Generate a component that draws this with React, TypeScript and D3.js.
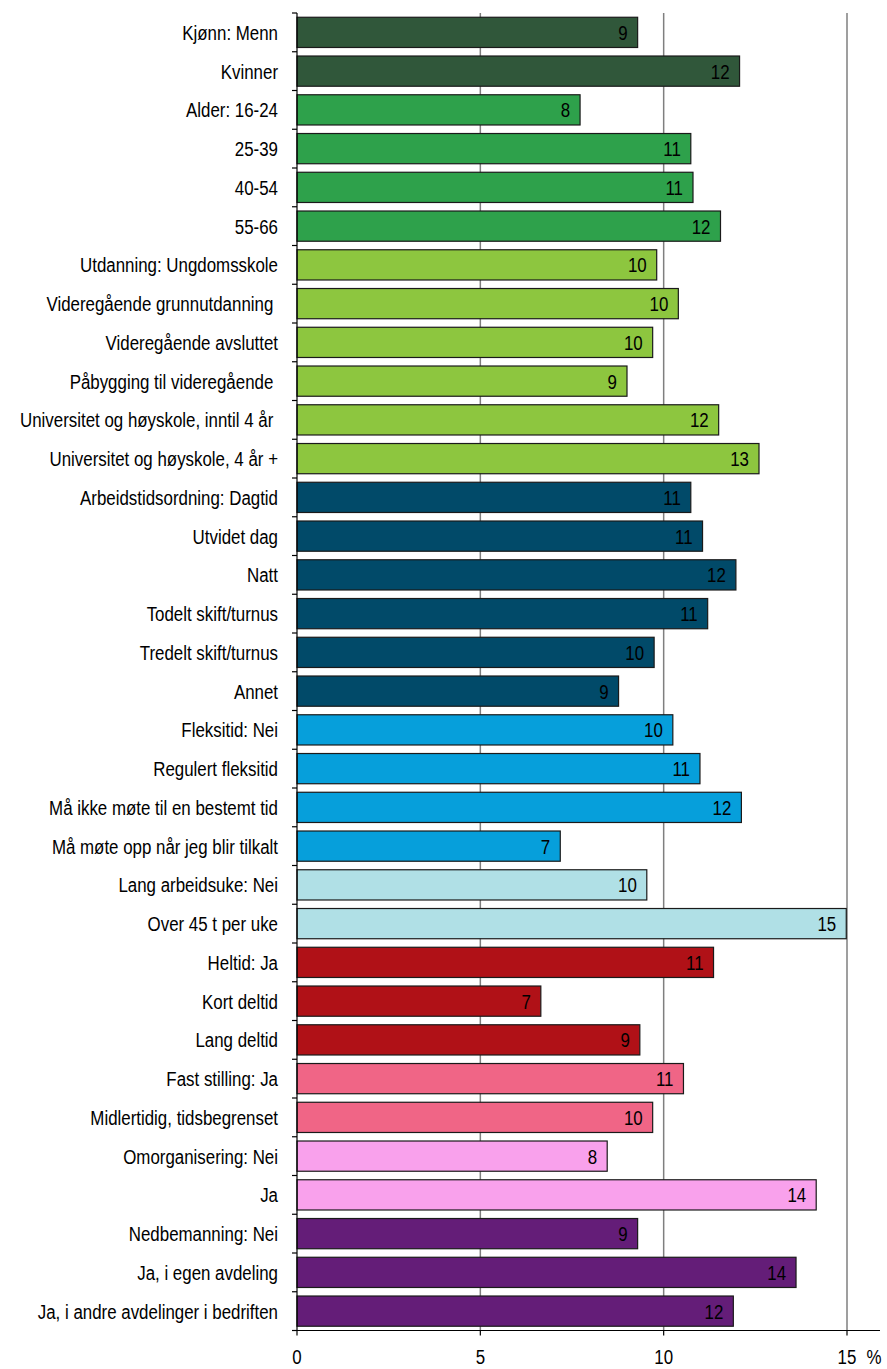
import React, { useEffect, useRef } from "react";
import * as d3 from "d3";

const categories = [
  "Kjønn: Menn", "Kvinner",
  "Alder: 16-24", "25-39", "40-54", "55-66",
  "Utdanning: Ungdomsskole", "Videregående grunnutdanning ", "Videregående avsluttet",
  "Påbygging til videregående ", "Universitet og høyskole, inntil 4 år ", "Universitet og høyskole, 4 år +",
  "Arbeidstidsordning: Dagtid", "Utvidet dag", "Natt", "Todelt skift/turnus", "Tredelt skift/turnus", "Annet",
  "Fleksitid: Nei", "Regulert fleksitid", "Må ikke møte til en bestemt tid", "Må møte opp når jeg blir tilkalt",
  "Lang arbeidsuke: Nei", "Over 45 t per uke",
  "Heltid: Ja", "Kort deltid", "Lang deltid",
  "Fast stilling: Ja", "Midlertidig, tidsbegrenset",
  "Omorganisering: Nei", "Ja",
  "Nedbemanning: Nei", "Ja, i egen avdeling", "Ja, i andre avdelinger i bedriften",
];

const values = [
  9.29, 12.07,
  7.72, 10.74, 10.8, 11.55,
  9.81, 10.4, 9.7, 9.0, 11.5, 12.6,
  10.74, 11.06, 11.97, 11.2, 9.74, 8.77,
  10.25, 10.99, 12.12, 7.18,
  9.54, 14.98,
  11.36, 6.65, 9.35,
  10.54, 9.7,
  8.46, 14.16,
  9.29, 13.61, 11.9,
];

const valueLabels = [
  "9", "12", "8", "11", "11", "12", "10", "10", "10", "9", "12", "13",
  "11", "11", "12", "11", "10", "9", "10", "11", "12", "7", "10", "15",
  "11", "7", "9", "11", "10", "8", "14", "9", "14", "12",
];

// group index per category
const groups = [
  0, 0, 1, 1, 1, 1, 2, 2, 2, 2, 2, 2, 3, 3, 3, 3, 3, 3, 4, 4, 4, 4, 5, 5, 6, 6, 6, 7, 7, 8, 8, 9, 9, 9,
];

const groupColors = [
  "#30573a", "#2ea14b", "#8dc63f", "#014a69", "#069fdb",
  "#b0e0e6", "#b01117", "#f06586", "#f9a1ec", "#641d78",
];

const xTicks = [0, 5, 10, 15];

const W = 887;
const H = 1369;

export default function App() {
  const ref = useRef<SVGSVGElement | null>(null);

  useEffect(() => {
    const svg = d3.select(ref.current);
    svg.selectAll("*").remove();

    const x = d3.scaleLinear().domain([0, 15]).range([297, 847]);
    const y = d3
      .scaleBand<string>()
      .domain(categories.map((_, i) => String(i)))
      .range([13, 1330.5])
      .paddingInner(0.22)
      .paddingOuter(0.11);
    const step = y.step();
    const top = 13;
    const bottom = 1330.5;
    const font = "'Liberation Sans', Arial, sans-serif";

    // grid lines
    svg
      .append("g")
      .selectAll("line")
      .data(xTicks.filter((t) => t > 0))
      .join("line")
      .attr("x1", (d) => x(d))
      .attr("x2", (d) => x(d))
      .attr("y1", top)
      .attr("y2", bottom)
      .attr("stroke", "#7f7f7f")
      .attr("stroke-width", 1.5);

    // bars
    svg
      .append("g")
      .selectAll("rect")
      .data(values)
      .join("rect")
      .attr("x", x(0))
      .attr("y", (_, i) => y(String(i))!)
      .attr("width", (d) => x(d) - x(0))
      .attr("height", y.bandwidth())
      .attr("fill", (_, i) => groupColors[groups[i]])
      .attr("stroke", "#1a1a1a")
      .attr("stroke-width", 1.2);

    // value labels
    svg
      .append("g")
      .selectAll("text")
      .data(values)
      .join("text")
      .attr(
        "transform",
        (d, i) =>
          `translate(${x(d) - 10},${y(String(i))! + y.bandwidth() / 2 + 7.5}) scale(0.866,1)`
      )
      .attr("text-anchor", "end")
      .attr("font-family", font)
      .attr("font-size", 19.5)
      .attr("fill", "#000")
      .text((_, i) => valueLabels[i]);

    // category labels
    svg
      .append("g")
      .selectAll("text")
      .data(categories)
      .join("text")
      .attr(
        "transform",
        (_, i) =>
          `translate(278,${y(String(i))! + y.bandwidth() / 2 + 7.5}) scale(0.866,1)`
      )
      .attr("text-anchor", "end")
      .attr("font-family", font)
      .attr("font-size", 19.5)
      .attr("fill", "#000")
      .style("white-space", "pre")
      .attr("xml:space", "preserve")
      .text((d) => d);

    // left axis line + ticks
    svg
      .append("line")
      .attr("x1", x(0))
      .attr("x2", x(0))
      .attr("y1", top)
      .attr("y2", bottom)
      .attr("stroke", "#000")
      .attr("stroke-width", 1.2);
    svg
      .append("g")
      .selectAll("line")
      .data(d3.range(categories.length + 1))
      .join("line")
      .attr("x1", x(0) - 5)
      .attr("x2", x(0))
      .attr("y1", (i) => top + i * step)
      .attr("y2", (i) => top + i * step)
      .attr("stroke", "#000")
      .attr("stroke-width", 1.2);

    // bottom axis
    svg
      .append("line")
      .attr("x1", x(0))
      .attr("x2", 880)
      .attr("y1", bottom)
      .attr("y2", bottom)
      .attr("stroke", "#000")
      .attr("stroke-width", 1.2);
    svg
      .append("g")
      .selectAll("line")
      .data(xTicks)
      .join("line")
      .attr("x1", (d) => x(d))
      .attr("x2", (d) => x(d))
      .attr("y1", bottom)
      .attr("y2", bottom + 5)
      .attr("stroke", "#000")
      .attr("stroke-width", 1.2);
    svg
      .append("g")
      .selectAll("text")
      .data(xTicks)
      .join("text")
      .attr("transform", (d) => `translate(${x(d)},1364) scale(0.866,1)`)
      .attr("text-anchor", "middle")
      .attr("font-family", font)
      .attr("font-size", 19.5)
      .attr("fill", "#000")
      .text((d) => String(d));
    svg
      .append("text")
      .attr("transform", `translate(874,1364) scale(0.866,1)`)
      .attr("text-anchor", "middle")
      .attr("font-family", font)
      .attr("font-size", 19.5)
      .attr("fill", "#000")
      .text("%");
  }, []);

  return (
    <svg
      ref={ref}
      width={W}
      height={H}
      style={{ position: "absolute", left: 0, top: 0, background: "#fff" }}
    />
  );
}
